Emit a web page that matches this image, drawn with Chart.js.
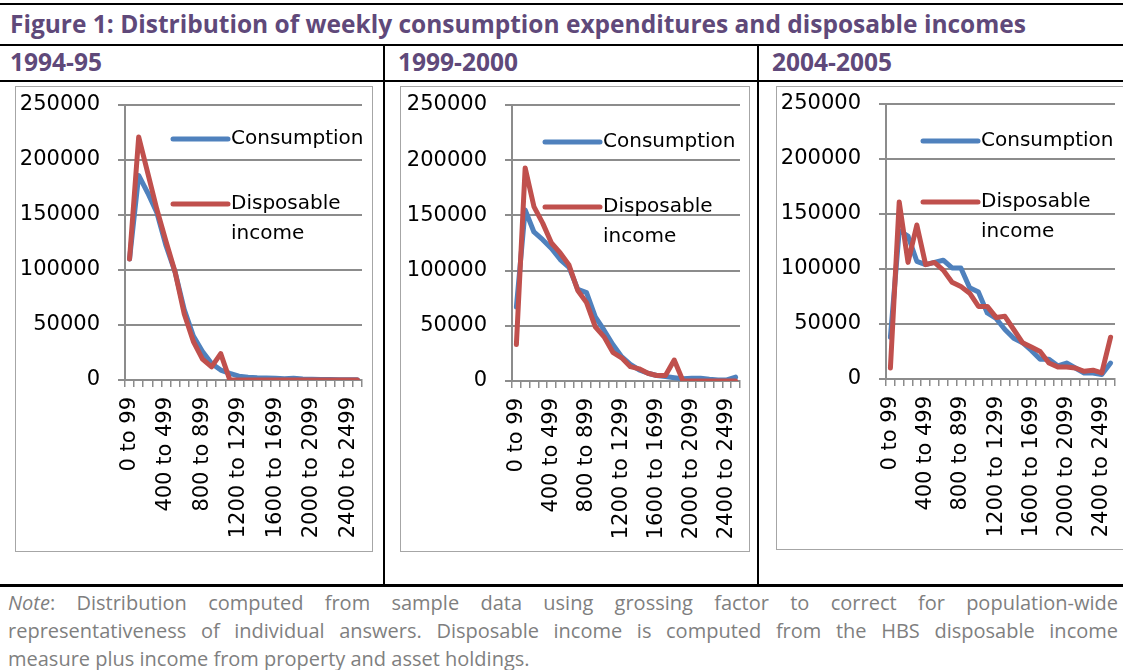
<!DOCTYPE html>
<html>
<head>
<meta charset="utf-8">
<script src="https://cdn.jsdelivr.net/npm/chart.js@4.4.1/dist/chart.umd.min.js"></script>
<style>
  html, body { margin: 0; padding: 0; background: #fff; }
  body { width: 1123px; height: 670px; position: relative; overflow: hidden; }
  .rule { position: absolute; background: #000; }
  .title { position: absolute; left: 10px; top: 9px; font: bold 24.5px "Open Sans", sans-serif; color: #5f497a; line-height: 30px; white-space: nowrap; }
  .period { position: absolute; top: 48px; font: bold 24.5px "Open Sans", sans-serif; color: #5f497a; line-height: 28px; }
  .frame { position: absolute; border: 1px solid #a6a6a6; box-sizing: border-box; }
  .frame canvas { display: block; }
  .note { position: absolute; left: 8px; width: 1110px; font: 20px "Open Sans", sans-serif; color: #7f7f7f; line-height: 28px; text-align: justify; white-space: nowrap; }
  .note.full { text-align-last: justify; white-space: normal; }
</style>
</head>
<body>
<div class="rule" style="left:0;top:3px;width:1123px;height:2px"></div>
<div class="title">Figure 1: Distribution of weekly consumption expenditures and disposable incomes</div>
<div class="rule" style="left:0;top:44px;width:1123px;height:2px"></div>
<div class="period" style="left:10px">1994-95</div>
<div class="period" style="left:398px">1999-2000</div>
<div class="period" style="left:772px">2004-2005</div>
<div class="rule" style="left:0;top:80px;width:1123px;height:2px"></div>
<div class="rule" style="left:383px;top:45px;width:2px;height:540px"></div>
<div class="rule" style="left:757px;top:45px;width:2px;height:540px"></div>
<div class="rule" style="left:0;top:584px;width:1123px;height:3px"></div>

<div class="frame" style="left:15px;top:86px;width:358px;height:466px"><canvas id="c1" width="356" height="464"></canvas></div>
<div class="frame" style="left:400px;top:86px;width:350px;height:466px"><canvas id="c2" width="348" height="464"></canvas></div>
<div class="frame" style="left:776px;top:86px;width:354px;height:464px"><canvas id="c3" width="352" height="462"></canvas></div>

<div class="note full" style="top:589px"><i>Note</i>: Distribution computed from sample data using grossing factor to correct for population-wide</div>
<div class="note full" style="top:617px">representativeness of individual answers. Disposable income is computed from the HBS disposable income</div>
<div class="note" style="top:645px">measure plus income from property and asset holdings.</div>

<script>
const categories = [
  '0 to 99', '100 to 199', '200 to 299', '300 to 399', '400 to 499', '500 to 599',
  '600 to 699', '700 to 799', '800 to 899', '900 to 999', '1000 to 1099', '1100 to 1199',
  '1200 to 1299', '1300 to 1399', '1400 to 1499', '1500 to 1599', '1600 to 1699', '1700 to 1799',
  '1800 to 1899', '1900 to 1999', '2000 to 2099', '2100 to 2199', '2200 to 2299', '2300 to 2399',
  '2400 to 2499', '2500 to 2599'
];
const yTicks = [0, 50000, 100000, 150000, 200000, 250000];

// 1994-95
const cons9495 = [110000, 186000, 170000, 152000, 122000, 98000, 64000, 40000, 26000, 15000, 9000, 6000, 3500,
  2500, 2000, 1800, 1500, 1200, 1500, 1000, 700, 500, 400, 300, 300, 200];
const disp9495 = [110000, 221000, 188000, 155000, 126000, 98000, 60000, 35000, 19000, 12000, 24000, 0, 0,
  0, 0, 0, 0, 0, 0, 0, 0, 0, 0, 0, 0, 0];

// 1999-2000
const cons9900 = [67000, 155000, 135000, 128000, 120000, 110000, 103000, 83000, 80000, 58000, 46000, 33000, 22000,
  15000, 10000, 7000, 5000, 4000, 3000, 2000, 2500, 2500, 1500, 1000, 1000, 3500];
const disp9900 = [33000, 193000, 158000, 143000, 125000, 116000, 105000, 82000, 71000, 49000, 40000, 26000, 21000,
  13000, 11000, 7000, 5000, 5000, 19000, 0, 0, 0, 0, 0, 0, 0];

// 2004-2005
const cons0405 = [38000, 135000, 130000, 107000, 104000, 106000, 108000, 101000, 101000, 83000, 79000, 60000, 55000,
  45000, 37000, 33000, 26000, 18000, 18000, 12000, 14500, 10000, 5500, 5500, 4000, 14500];
const disp0405 = [10000, 161000, 106000, 140000, 104000, 106000, 99000, 88000, 84000, 78000, 66000, 66000, 56000,
  57000, 45000, 33000, 29000, 25000, 14500, 11000, 11000, 10000, 7000, 8000, 5500, 38000];

const blue = '#4f81bd';
const red = '#c0504d';
const axisGrey = '#8c8c8c';
const tickFont = { family: 'DejaVu Sans', size: 21 };

// legend drawn inside the plot, with the two-line label Excel uses
const sideLegend = {
  id: 'sideLegend',
  afterDraw(chart, args, opts) {
    const { ctx, chartArea } = chart;
    ctx.save();
    ctx.font = '20px "DejaVu Sans"';
    ctx.textBaseline = 'middle';
    ctx.fillStyle = '#000';
    chart.data.datasets.forEach((ds, i) => {
      const x = chartArea.left + opts.x;
      const y = chartArea.top + opts.y[i];
      ctx.strokeStyle = ds.borderColor;
      ctx.lineWidth = 5;
      ctx.lineCap = 'round';
      ctx.beginPath();
      ctx.moveTo(x, y);
      ctx.lineTo(x + 55, y);
      ctx.stroke();
      ds.label.split('\n').forEach((t, k) => ctx.fillText(t, x + 58, y + k * 30));
    });
    ctx.restore();
  }
};

function makeChart(id, cons, disp, box) {
  return new Chart(document.getElementById(id), {
    type: 'line',
    data: {
      labels: categories,
      datasets: [
        { label: 'Consumption', data: cons, borderColor: blue, order: 1 },
        { label: 'Disposable\nincome', data: disp, borderColor: red, order: 0 }
      ]
    },
    options: {
      responsive: false,
      animation: false,
      layout: { padding: { top: box.top, right: box.right, left: 0, bottom: 0 } },
      elements: {
        line: { borderWidth: 5, tension: 0, borderJoinStyle: 'round', borderCapStyle: 'round' },
        point: { radius: 0, hoverRadius: 0 }
      },
      scales: {
        x: {
          offset: true,
          afterFit: s => { s.height = box.xh; s.paddingLeft = 0; s.paddingRight = 0; },
          grid: { offset: true, drawOnChartArea: false, color: axisGrey, lineWidth: 1.5, tickLength: 7 },
          border: { color: axisGrey, width: 2 },
          ticks: {
            autoSkip: false, maxRotation: 90, minRotation: 90, padding: 10,
            font: tickFont, color: '#000',
            callback: (v, i) => (i % 4 === 0 ? categories[i] : '')
          }
        },
        y: {
          min: 0,
          max: 250000,
          afterBuildTicks: s => { s.ticks = yTicks.map(v => ({ value: v })); },
          afterFit: s => { s.width = box.yw; s.paddingTop = 0; s.paddingBottom = 0; },
          grid: { color: axisGrey, lineWidth: 2, tickLength: 7 },
          border: { color: axisGrey, width: 2 },
          ticks: { font: tickFont, color: '#000', padding: 18, callback: v => String(v) }
        }
      },
      plugins: {
        legend: { display: false },
        tooltip: { enabled: false },
        sideLegend: box.legend
      }
    },
    plugins: [sideLegend]
  });
}

makeChart('c1', cons9495, disp9495, { top: 18, right: 10, yw: 109, xh: 171, legend: { x: 48, y: [34, 99] } });
makeChart('c2', cons9900, disp9900, { top: 18, right: 9, yw: 111, xh: 170, legend: { x: 33, y: [37, 102] } });
makeChart('c3', cons0405, disp0405, { top: 17, right: 14, yw: 109, xh: 170, legend: { x: 37, y: [37, 98] } });
</script>
</body>
</html>
